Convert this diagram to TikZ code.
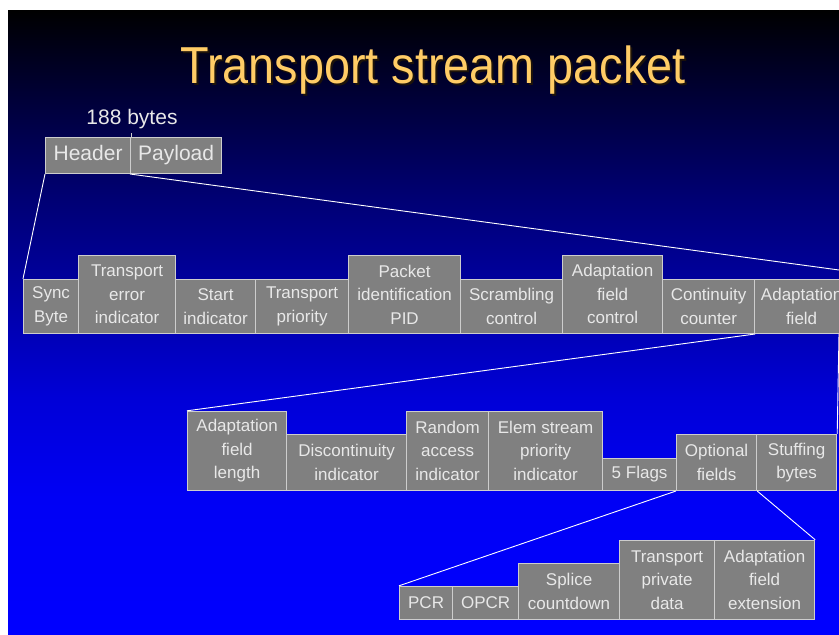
\documentclass[tikz,border=0pt]{standalone}
\usepackage{fontspec}
\setmainfont{Liberation Sans}

\definecolor{titlegold}{RGB}{255,204,102}
\definecolor{boxgray}{RGB}{128,128,128}
\definecolor{boxedge}{RGB}{205,205,205}
\definecolor{labelwhite}{RGB}{232,232,232}
\definecolor{bgE}{RGB}{0,0,255}
\definecolor{bgD}{RGB}{0,0,245}
\definecolor{bgC}{RGB}{0,0,215}
\definecolor{bgB}{RGB}{0,0,165}
\definecolor{bgA}{RGB}{0,0,115}
\definecolor{bgZ}{RGB}{0,0,55}

% slide background: black at the top fading into full blue near the bottom
\pgfdeclareverticalshading{slidebg}{100bp}{%
  color(0bp)=(bgE); color(25bp)=(bgE); color(36bp)=(bgD); color(44bp)=(bgC);
  color(52bp)=(bgB); color(60bp)=(bgA); color(68bp)=(bgZ);
  color(75bp)=(black); color(100bp)=(black)}

\tikzset{
  fieldbox/.style={draw=boxedge, line width=1.2pt, fill=boxgray, text=labelwhite,
    font=\fontsize{17}{23.5}\selectfont, align=center, inner sep=0pt,
    anchor=south west},
  bigbox/.style={fieldbox, font=\fontsize{21}{25}\selectfont,
    text height=15pt, text depth=4pt},
  link/.style={draw=white, line width=0.9pt},
}

% \field{name}{left}{right}{top}{bottom}{text}
\newcommand{\field}[7][fieldbox]{%
  \node[#1, minimum width={#4-#3}, minimum height={#6-#5}] (#2) at (#3,#6) {#7};}

\begin{document}
\begin{tikzpicture}[x=1pt, y=-1pt]
  \useasboundingbox (0,0) rectangle (839,635);
  \fill[white] (0,0) rectangle (839,635);
  \shade[shading=slidebg] (8,10) rectangle (839,635);

  % title with its drop shadow
  \node[text=black!85!brown, anchor=base, font=\fontsize{52}{60}\selectfont]
    (titleshadow) at (435,85) {\scalebox{0.9}[1]{Transport stream packet}};
  \node[text=titlegold, anchor=base, font=\fontsize{52}{60}\selectfont]
    (title) at (433,83) {\scalebox{0.9}[1]{Transport stream packet}};

  % whole packet
  \node[text=labelwhite, anchor=base, font=\fontsize{21}{25}\selectfont]
    (size) at (132,124) {188 bytes};
  \field[bigbox]{header}{45}{130}{138}{174}{Header}
  \field[bigbox]{payload}{130}{221}{138}{174}{Payload}
  \draw[draw=boxedge, line width=1.2pt] (header.north east) -- ++(0,-4);

  % header fields
  \field{sync}{23}{78}{280}{334}{Sync\\Byte}
  \field{tei}{78}{175}{256}{334}{Transport\\error\\indicator}
  \field{start}{175}{255}{280}{334}{Start\\indicator}
  \field{tprio}{255}{348}{280}{334}{Transport\\priority}
  \field{pid}{348}{460}{256}{334}{Packet\\identification\\PID}
  \field{scram}{460}{562}{280}{334}{Scrambling\\control}
  \field{afc}{562}{662}{256}{334}{Adaptation\\field\\control}
  \field{contcnt}{662}{754}{280}{334}{Continuity\\counter}
  \field{afield}{754}{848}{280}{334}{Adaptation\\field}

  % adaptation field contents
  \field{aflen}{187}{286}{412}{491}{Adaptation\\field\\length}
  \field{disc}{286}{406}{435}{491}{Discontinuity\\indicator}
  \field{rai}{406}{488}{412}{491}{Random\\access\\indicator}
  \field{espi}{488}{602}{412}{491}{Elem stream\\priority\\indicator}
  \field{flags}{602}{676}{459}{491}{5 Flags}
  \field{optional}{676}{756}{435}{491}{Optional\\fields}
  \field{stuff}{756}{836}{435}{491}{Stuffing\\bytes}

  % optional fields
  \field{pcr}{399}{452}{587}{620}{PCR}
  \field{opcr}{452}{518}{587}{620}{OPCR}
  \field{splice}{518}{619}{564}{620}{Splice\\countdown}
  \field{tpd}{619}{714}{541}{620}{Transport\\private\\data}
  \field{afext}{714}{814}{541}{620}{Adaptation\\field\\extension}

  % expansion lines
  \coordinate (rimA) at (839,270);
  \coordinate (rimB) at (839,334);
  \draw[link] (header.south west) -- (sync.north west);
  \draw[link] (payload.south west) -- (rimA);
  \draw[link] (contcnt.south east) -- (aflen.north west);
  \draw[link] (rimB) -- (stuff.north east);
  \draw[link] (optional.south west) -- (pcr.north west);
  \draw[link] (optional.south east) -- (afext.north east);
\end{tikzpicture}
\end{document}
